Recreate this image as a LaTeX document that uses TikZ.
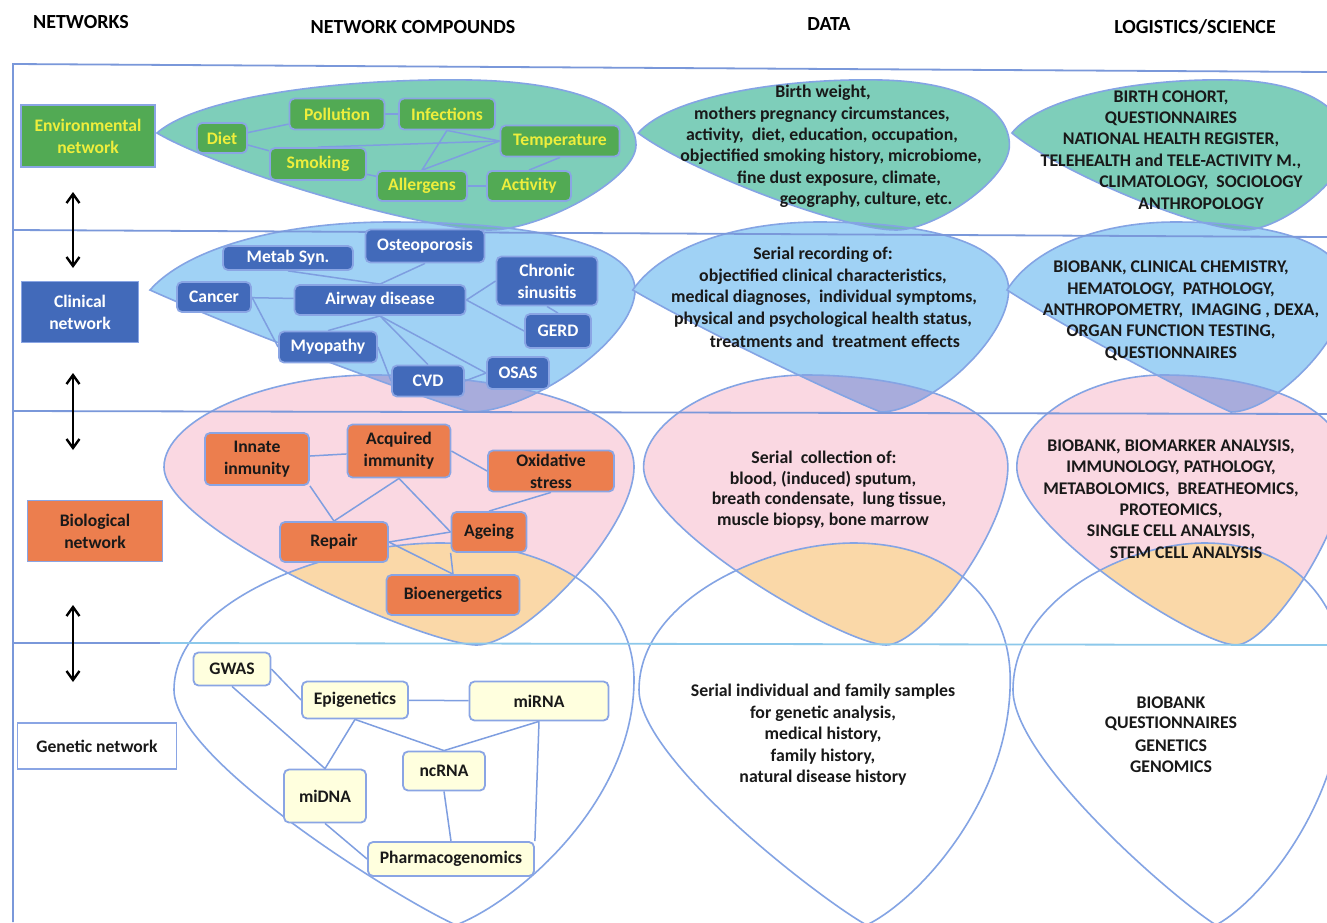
\documentclass[tikz,border=0pt]{standalone}
\usepackage{fontspec}
\setmainfont{Carlito}
\usetikzlibrary{arrows.meta}
\definecolor{frameblue}{RGB}{122,152,218}
\definecolor{framecyan}{RGB}{140,200,235}
\definecolor{blobline}{RGB}{132,164,228}
\definecolor{envfill}{RGB}{126,206,186}
\definecolor{clinfill}{RGB}{160,210,245}
\definecolor{biofill}{RGB}{250,216,226}
\definecolor{ecover}{RGB}{112,186,180}
\definecolor{cbover}{RGB}{168,172,220}
\definecolor{bgover}{RGB}{250,216,168}
\definecolor{envgreen}{RGB}{82,170,84}
\definecolor{envyellow}{RGB}{238,238,60}
\definecolor{clinblue}{RGB}{66,106,186}
\definecolor{bioorange}{RGB}{236,126,78}
\definecolor{genyellow}{RGB}{255,255,222}
\definecolor{nodeborder}{RGB}{138,165,228}
\definecolor{edgeblue}{RGB}{126,158,224}
\definecolor{txt}{RGB}{25,25,25}

\pgfdeclarelayer{blobs}
\pgfdeclarelayer{edges}
\pgfsetlayers{blobs,edges,main}

\def\envpath{(157,133) .. controls (200,95) and (350,78) .. (470,80) .. controls (580,82) and (636,110) .. (636,145) .. controls (636,180) and (540,230) .. (490,230) .. controls (420,230) and (220,170) .. (157,133) -- cycle}
\def\clinpath{(150,290) .. controls (190,245) and (290,222) .. (390,222) .. controls (520,222) and (635,240) .. (635,290) .. controls (635,340) and (530,412) .. (470,412) .. controls (430,400) and (250,335) .. (150,290) -- cycle}
\def\biopath{(164,467) .. controls (164,420) and (264,375) .. (374,375) .. controls (494,375) and (634,400) .. (634,467) .. controls (634,530) and (524,645) .. (477,645) .. controls (424,645) and (164,530) .. (164,467) -- cycle}
\def\genpath{(174,690) .. controls (174,600) and (330,543) .. (440,543) .. controls (560,543) and (634,600) .. (634,680) .. controls (634,800) and (520,900) .. (456,925) .. controls (400,900) and (174,760) .. (174,690) -- cycle}

% #1 = extra xshift, #2 = extra xscale for the genetic blob of a column
\newcommand\drawblobcolumn[2]{%
  \fill[envfill] \envpath; \fill[clinfill] \clinpath; \fill[biofill] \biopath;
  \begin{scope}[xshift=#1, xscale=#2]\fill[white] \genpath;\end{scope}
  \begin{scope}\clip \envpath; \fill[ecover] \clinpath; \end{scope}
  \begin{scope}\clip \clinpath; \fill[cbover] \biopath; \end{scope}
  \begin{scope}\clip \biopath; \begin{scope}[xshift=#1, xscale=#2]\fill[bgover] \genpath;\end{scope}\end{scope}
  \draw[blob] \envpath; \draw[blob] \clinpath; \draw[blob] \biopath;
  \begin{scope}[xshift=#1, xscale=#2]\draw[blob] \genpath;\end{scope}
}

\tikzset{
  blob/.style={draw=blobline, line width=1.6pt},
  frameline/.style={draw=frameblue, line width=1.8pt},
  base/.style={font=\bfseries\fontsize{17.6}{22}\selectfont, align=center, inner sep=1pt},
  cnode/.style={base, rounded corners=5pt, draw=nodeborder, line width=1.8pt},
  envn/.style={cnode, fill=envgreen, text=envyellow},
  clinn/.style={cnode, fill=clinblue, text=white},
  bion/.style={cnode, fill=bioorange, text=txt},
  genn/.style={cnode, fill=genyellow, text=txt},
  labbox/.style={base, draw=nodeborder, line width=1.8pt},
  edge/.style={draw=edgeblue, line width=1.5pt},
  dtext/.style={font=\bfseries\fontsize{17.8}{20}\selectfont, inner sep=0pt, text=txt},
  head/.style={font=\bfseries\fontsize{20}{24}\selectfont, inner sep=0pt, text=black},
  dbl/.style={line width=2.4pt, {Straight Barb[length=9pt,width=13pt,line width=2.4pt]}-{Straight Barb[length=9pt,width=13pt,line width=2.4pt]}},
}

\begin{document}
\begin{tikzpicture}[x=1pt, y=-1pt]
\useasboundingbox (0,0) rectangle (1327,922);

% ---------- blobs ----------
\begin{pgfonlayer}{blobs}
  \fill[white] (0,0) rectangle (1327,922);
  \drawblobcolumn{0pt}{1}
  \begin{scope}[xshift=516.5pt, xscale=0.775]
    \drawblobcolumn{-23.1pt}{1.0413}
  \end{scope}
  \begin{scope}[xshift=902pt, xscale=0.70]
    \drawblobcolumn{-20.4pt}{1.0286}
  \end{scope}
  % frame lines
  \draw[frameline] (13,922) -- (13,64) -- (1327,72);
  \draw[frameline] (13,230) -- (1327,237);
  \draw[frameline] (13,411) -- (1327,414);
  \draw[frameline] (13,643) -- (160,643);
  \draw[draw=framecyan, line width=1.8pt] (160,643) -- (1327,645);
\end{pgfonlayer}

% ---------- headers ----------
\node[head] (h1) at (81,22) {NETWORKS};
\node[head] (h2) at (413,27) {NETWORK COMPOUNDS};
\node[head] (h3) at (829,24) {DATA};
\node[head] (h4) at (1195,27) {LOGISTICS/SCIENCE};

% ---------- left labels ----------
\node[labbox, fill=envgreen, text=envyellow, minimum width=134, minimum height=62] (envlab) at (88,136) {Environmental\\network};
\node[labbox, fill=clinblue, text=white, minimum width=117, minimum height=61] (clinlab) at (80,312) {Clinical\\network};
\node[labbox, fill=bioorange, text=txt, minimum width=135, minimum height=61] (biolab) at (95,531) {Biological\\network};
\node[labbox, fill=white, text=txt, minimum width=159, minimum height=46] (genlab) at (97,746) {Genetic network};

\coordinate (a1t) at (73,192); \coordinate (a1b) at (73,268);
\coordinate (a2t) at (73,373); \coordinate (a2b) at (73,450);
\coordinate (a3t) at (73,605); \coordinate (a3b) at (73,682);
\draw[dbl] (a1t) -- (a1b);
\draw[dbl] (a2t) -- (a2b);
\draw[dbl] (a3t) -- (a3b);

% ---------- environmental network ----------
\node[envn, minimum width=50, minimum height=30] (diet) at (222,138) {Diet};
\node[envn, minimum width=95, minimum height=31] (poll) at (337,114) {Pollution};
\node[envn, minimum width=96, minimum height=31] (inf) at (447,114) {Infections};
\node[envn, minimum width=119, minimum height=31] (temp) at (560,141) {Temperature};
\node[envn, minimum width=96, minimum height=32] (smok) at (318,164) {Smoking};
\node[envn, minimum width=90, minimum height=30] (all) at (422,186) {Allergens};
\node[envn, minimum width=84, minimum height=30] (act) at (529,186) {Activity};

% ---------- clinical network ----------
\node[clinn, minimum width=130, minimum height=24] (metab) at (288,258) {Metab Syn.};
\node[clinn, minimum width=119, minimum height=33] (osteo) at (425,246) {Osteoporosis};
\node[clinn, minimum width=74, minimum height=30] (canc) at (214,297) {Cancer};
\node[clinn, minimum width=171, minimum height=30] (air) at (380,300) {Airway disease};
\node[clinn, minimum width=101, minimum height=49] (chron) at (547,281) {Chronic\\sinusitis};
\node[clinn, minimum width=66, minimum height=34] (gerd) at (558,331) {GERD};
\node[clinn, minimum width=98, minimum height=31] (myo) at (328,347) {Myopathy};
\node[clinn, minimum width=72, minimum height=31] (cvd) at (428,381) {CVD};
\node[clinn, minimum width=62, minimum height=32] (osas) at (518,373) {OSAS};

% ---------- biological network ----------
\node[bion, minimum width=104, minimum height=52] (inn) at (257,459) {Innate\\inmunity};
\node[bion, minimum width=103, minimum height=53] (acq) at (399,451) {Acquired\\immunity};
\node[bion, minimum width=126, minimum height=41] (oxi) at (551,471) {Oxidative\\stress};
\node[bion, minimum width=108, minimum height=40] (rep) at (334,542) {Repair};
\node[bion, minimum width=75, minimum height=40] (age) at (489,532) {Ageing};
\node[bion, minimum width=133, minimum height=40] (bioe) at (453,595) {Bioenergetics};

% ---------- genetic network ----------
\node[genn, minimum width=77, minimum height=33] (gwas) at (232,669) {GWAS};
\node[genn, minimum width=106, minimum height=37] (epi) at (355,700) {Epigenetics};
\node[genn, minimum width=139, minimum height=39] (mirna) at (539,701) {miRNA};
\node[genn, minimum width=82, minimum height=39] (ncrna) at (444,771) {ncRNA};
\node[genn, minimum width=82, minimum height=53] (midna) at (325,796) {miDNA};
\node[genn, minimum width=166, minimum height=34] (pharm) at (451,859) {Pharmacogenomics};

% ---------- edges ----------
\begin{pgfonlayer}{edges}
  \draw[edge] (diet) -- (poll);
  \draw[edge] (diet) -- (smok);
  \draw[edge] (poll) -- (inf);
  \draw[edge] (smok.north) -- (temp.west);
  \draw[edge] (inf.south) -- (all.north);
  \draw[edge] (inf.south) -- (temp.west);
  \draw[edge] (all.north) -- (temp.west);
  \draw[edge] (smok) -- (all);
  \draw[edge] (all) -- (act);
  \draw[edge] (temp.south) -- (act.north);

  \draw[edge] (metab.south) -- (air.north);
  \draw[edge] (osteo.south) -- (air.north);
  \draw[edge] (canc) -- (air);
  \draw[edge] (canc.east) -- (myo.west);
  \draw[edge] (air.east) -- (chron.west);
  \draw[edge] (air.east) -- (gerd.west);
  \draw[edge] (chron.south) -- (gerd.north);
  \draw[edge] (air.south) -- (myo.north);
  \draw[edge] (air.south) -- (cvd.north);
  \draw[edge] (air.south) -- (osas.west);
  \draw[edge] (myo.east) -- (cvd.west);
  \draw[edge] (cvd.east) -- (osas.west);

  \draw[edge] (inn) -- (acq);
  \draw[edge] (inn.south east) -- (rep.north);
  \draw[edge] (acq.south) -- (rep.north);
  \draw[edge] (acq.south) -- (age.west);
  \draw[edge] (acq.east) -- (oxi.west);
  \draw[edge] (oxi.south) -- (age.north);
  \draw[edge] (rep.east) -- (age.west);
  \draw[edge] (rep.east) -- (bioe.north);
  \draw[edge] (age.south west) -- (bioe.north);

  \draw[edge] (gwas.east) -- (epi.west);
  \draw[edge] (gwas.south) -- (midna.north);
  \draw[edge] (epi) -- (mirna);
  \draw[edge] (epi.south) -- (midna.north);
  \draw[edge] (epi.south) -- (ncrna.north);
  \draw[edge] (mirna.south) -- (ncrna.north);
  \draw[edge] (mirna.south) -- (pharm.north east);
  \draw[edge] (ncrna.south) -- (pharm.north);
  \draw[edge] (midna.south) -- (pharm.west);
\end{pgfonlayer}

% ---------- data column ----------
\node[dtext] (de1) at (823,93) {Birth weight,};
\node[dtext] (de2) at (822,115) {mothers pregnancy circumstances,};
\node[dtext] (de3) at (822,136) {activity,\ \ diet, education, occupation,};
\node[dtext] (de4) at (831,157) {objectified smoking history, microbiome,};
\node[dtext] (de5) at (839,179) {fine dust exposure, climate,};
\node[dtext] (de6) at (866,200) {geography, culture, etc.};

\node[dtext] (dc1) at (823,255) {Serial recording of:};
\node[dtext] (dc2) at (823,277) {objectified clinical characteristics,};
\node[dtext] (dc3) at (824,298) {medical diagnoses,\ \ individual symptoms,};
\node[dtext] (dc4) at (823,320) {physical and psychological health status,};
\node[dtext] (dc5) at (835,341) {treatments and\ \ treatment effects};

\node[dtext] (db1) at (824,457) {Serial\ \ collection of:};
\node[dtext] (db2) at (823,479) {blood, (induced) sputum,};
\node[dtext] (db3) at (829,500) {breath condensate,\ \ lung tissue,};
\node[dtext] (db4) at (823,521) {muscle biopsy, bone marrow};

\node[dtext] (dg1) at (823,692) {Serial individual and family samples};
\node[dtext] (dg2) at (823,714) {for genetic analysis,};
\node[dtext] (dg3) at (823,735) {medical history,};
\node[dtext] (dg4) at (823,757) {family history,};
\node[dtext] (dg5) at (823,778) {natural disease history};

% ---------- logistics column ----------
\node[dtext] (le1) at (1171,98) {BIRTH COHORT,};
\node[dtext] (le2) at (1171,119) {QUESTIONNAIRES};
\node[dtext] (le3) at (1171,140) {NATIONAL HEALTH REGISTER,};
\node[dtext] (le4) at (1171,161) {TELEHEALTH and TELE-ACTIVITY M.,};
\node[dtext] (le5) at (1201,183) {CLIMATOLOGY,\ \ SOCIOLOGY};
\node[dtext] (le6) at (1201,204) {ANTHROPOLOGY};

\node[dtext] (lc1) at (1171,268) {BIOBANK, CLINICAL CHEMISTRY,};
\node[dtext] (lc2) at (1171,290) {HEMATOLOGY,\ \ PATHOLOGY,};
\node[dtext] (lc3) at (1181,311) {ANTHROPOMETRY,\ \ IMAGING , DEXA,};
\node[dtext] (lc4) at (1171,332) {ORGAN FUNCTION TESTING,};
\node[dtext] (lc5) at (1171,354) {QUESTIONNAIRES};

\node[dtext] (lb1) at (1171,447) {BIOBANK, BIOMARKER ANALYSIS,};
\node[dtext] (lb2) at (1171,468) {IMMUNOLOGY, PATHOLOGY,};
\node[dtext] (lb3) at (1171,490) {METABOLOMICS,\ \ BREATHEOMICS,};
\node[dtext] (lb4) at (1171,511) {PROTEOMICS,};
\node[dtext] (lb5) at (1171,532) {SINGLE CELL ANALYSIS,};
\node[dtext] (lb6) at (1186,553) {STEM CELL ANALYSIS};

\node[dtext] (lg1) at (1171,703) {BIOBANK};
\node[dtext] (lg2) at (1171,724) {QUESTIONNAIRES};
\node[dtext] (lg3) at (1171,746) {GENETICS};
\node[dtext] (lg4) at (1171,767) {GENOMICS};
\end{tikzpicture}
\end{document}
